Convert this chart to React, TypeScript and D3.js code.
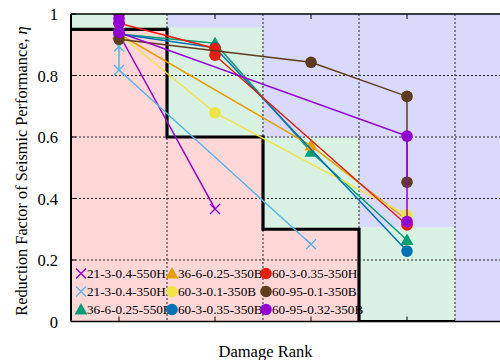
import React from "react";
import * as d3 from "d3";

const seriesNames = [
  "21-3-0.4-550H",
  "21-3-0.4-350H",
  "36-6-0.25-550B",
  "36-6-0.25-350B",
  "60-3-0.1-350B",
  "60-3-0.35-350B",
  "60-3-0.35-350H",
  "60-95-0.1-350B",
  "60-95-0.32-350B",
];

const s1: [number, number][] = [[1, 0.935], [2, 0.366]];
const s2: [number, number][] = [[1, 0.935], [1, 0.894], [1, 0.818], [3, 0.251]];
const s3: [number, number][] = [[1, 0.935], [2, 0.905], [3, 0.552], [4, 0.265]];
const s4: [number, number][] = [[1, 0.935], [3, 0.572], [4, 0.33]];
const s5: [number, number][] = [[1, 0.935], [2, 0.679], [4, 0.346]];
const s6: [number, number][] = [[1, 0.935], [2, 0.89], [4, 0.229]];
const s7: [number, number][] = [[1, 0.97], [2, 0.888], [2, 0.866], [4, 0.314]];
const s8: [number, number][] = [[1, 0.918], [3, 0.843], [4, 0.732], [4, 0.453]];
const s9: [number, number][] = [[1, 1.0], [1, 0.985], [1, 0.97], [1, 0.94], [4, 0.603], [4, 0.325]];
const seriesData = [s1, s2, s3, s4, s5, s6, s7, s8, s9];

const seriesColors = ["#9400d3", "#56b4e9", "#009e73", "#e69f00", "#f0e442", "#0072b2", "#e51e10", "#5e3c1c", "#9400d3"];
const seriesMarkers = ["x", "x", "tri", "tri", "circle", "circle", "circle", "circle", "circle"];

// damage-rank bands (centre rank), and the limits of the zones
const bandRanks = [1, 2, 3, 4, 5];
const pinkTop = [0.95, 0.6, 0.3, 0, 0];
const greenTop = [1, 0.955, 0.6, 0.305, 0];

const stepLine: [number, number][] = [
  [0.5, 0.95], [1.5, 0.95], [1.5, 0.6], [2.5, 0.6], [2.5, 0.3], [3.5, 0.3], [3.5, 0], [4.5, 0],
];

const yTicks = [0, 0.2, 0.4, 0.6, 0.8, 1];
const yTickLabels = ["0", "0.2", "0.4", "0.6", "0.8", "1"];
const xTicks = [1, 2, 3, 4];
const xGrid = [1.5, 2.5, 3.5, 4.5];
const yGrid = [0.2, 0.4, 0.6, 0.8];

const W = 500;
const H = 360;
const left = 71;
const top = 14;
const bottom = 321.5;

const x = d3.scaleLinear().domain([0.5, 5]).range([left, left + 4.5 * 96]);
const y = d3.scaleLinear().domain([0, 1]).range([bottom, top]);

const serifStyle = { fontFamily: '"Liberation Serif", "DejaVu Serif", serif' };

function Marker({ kind, cx, cy, color }: { kind: string; cx: number; cy: number; color: string }) {
  if (kind === "circle") return <circle cx={cx} cy={cy} r={5.8} fill={color} />;
  if (kind === "tri") {
    const s = 6.5;
    return (
      <path
        d={`M${cx},${cy - s} L${cx + s},${cy + s * 0.75} L${cx - s},${cy + s * 0.75} Z`}
        fill={color}
      />
    );
  }
  const s = 5;
  return (
    <path
      d={`M${cx - s},${cy - s} L${cx + s},${cy + s} M${cx - s},${cy + s} L${cx + s},${cy - s}`}
      stroke={color}
      strokeWidth={1.4}
      fill="none"
    />
  );
}

export default function App() {
  const line = d3
    .line<[number, number]>()
    .x((d) => x(d[0]))
    .y((d) => y(d[1]));

  const legendCols = [81, 172, 266];
  const legendRows = [273.5, 291.5, 309.5];

  return (
    <svg
      width={W}
      height={H}
      style={{ position: "absolute", left: 0, top: 0, background: "#fff" }}
    >
      <defs>
        <clipPath id="plot">
          <rect x={left} y={top} width={W - left} height={bottom - top} />
        </clipPath>
      </defs>
      <g clipPath="url(#plot)">
        {bandRanks.map((r, i) => (
          <g key={r}>
            <rect x={x(r - 0.5)} y={y(1)} width={x(r + 0.5) - x(r - 0.5)} height={y(greenTop[i]) - y(1)} fill="#d9d9fc" />
            <rect x={x(r - 0.5)} y={y(greenTop[i])} width={x(r + 0.5) - x(r - 0.5)} height={y(pinkTop[i]) - y(greenTop[i])} fill="#d8f1e2" />
            <rect x={x(r - 0.5)} y={y(pinkTop[i])} width={x(r + 0.5) - x(r - 0.5)} height={y(0) - y(pinkTop[i])} fill="#ffd7d7" />
          </g>
        ))}
        {yGrid.map((v) => (
          <line key={"gy" + v} x1={left} x2={W} y1={y(v)} y2={y(v)} stroke="#222" strokeWidth={1} strokeDasharray="2,2" />
        ))}
        {xGrid.map((v) => (
          <line key={"gx" + v} x1={x(v)} x2={x(v)} y1={top} y2={bottom} stroke="#222" strokeWidth={1} strokeDasharray="2,2" />
        ))}
        <path d={line(stepLine) || ""} fill="none" stroke="#000" strokeWidth={3.2} />
        {xTicks.map((t) => (
          <g key={"xt" + t}>
            <line x1={x(t)} x2={x(t)} y1={top} y2={top + 5} stroke="#000" strokeWidth={1} />
            <line x1={x(t)} x2={x(t)} y1={bottom} y2={bottom - 5} stroke="#000" strokeWidth={1} />
          </g>
        ))}
        {seriesData.map((s, i) => (
          <g key={"s" + i}>
            <path d={line(s) || ""} fill="none" stroke={seriesColors[i]} strokeWidth={1.5} />
            {s.map((p, j) => (
              <Marker key={j} kind={seriesMarkers[i]} cx={x(p[0])} cy={y(p[1])} color={seriesColors[i]} />
            ))}
          </g>
        ))}
      </g>
      {/* border */}
      <line x1={left} x2={W} y1={top} y2={top} stroke="#000" strokeWidth={1.5} />
      <line x1={left} x2={W} y1={bottom} y2={bottom} stroke="#000" strokeWidth={1.5} />
      <line x1={left} x2={left} y1={top} y2={bottom} stroke="#000" strokeWidth={2} />
      {yTicks.map((t, i) => (
        <g key={"yt" + t}>
          <line x1={left} x2={left + 5} y1={y(t)} y2={y(t)} stroke="#000" strokeWidth={1} />
          <text x={58} y={y(t) + 6} textAnchor="end" fontSize={16.5} fill="#000" style={serifStyle}>
            {yTickLabels[i]}
          </text>
        </g>
      ))}
      {/* legend */}
      {seriesNames.map((name, i) => {
        const col = Math.floor(i / 3);
        const row = i % 3;
        const cx = legendCols[col];
        const cy = legendRows[row];
        return (
          <g key={"lg" + i}>
            <Marker kind={seriesMarkers[i]} cx={cx} cy={cy} color={seriesColors[i]} />
            <text x={cx + 6} y={cy + 4.8} fontSize={13.2} fill="#000" style={serifStyle}>
              {name}
            </text>
          </g>
        );
      })}
      <text
        transform={`translate(26.5,171) rotate(-90)`}
        textAnchor="middle"
        fontSize={16.3}
        fill="#000"
        style={serifStyle}
      >
        Reduction Factor of Seismic Performance, <tspan fontStyle="italic">η</tspan>
      </text>
      <text x={265.5} y={357} textAnchor="middle" fontSize={16.5} fill="#000" style={serifStyle}>
        Damage Rank
      </text>
    </svg>
  );
}
